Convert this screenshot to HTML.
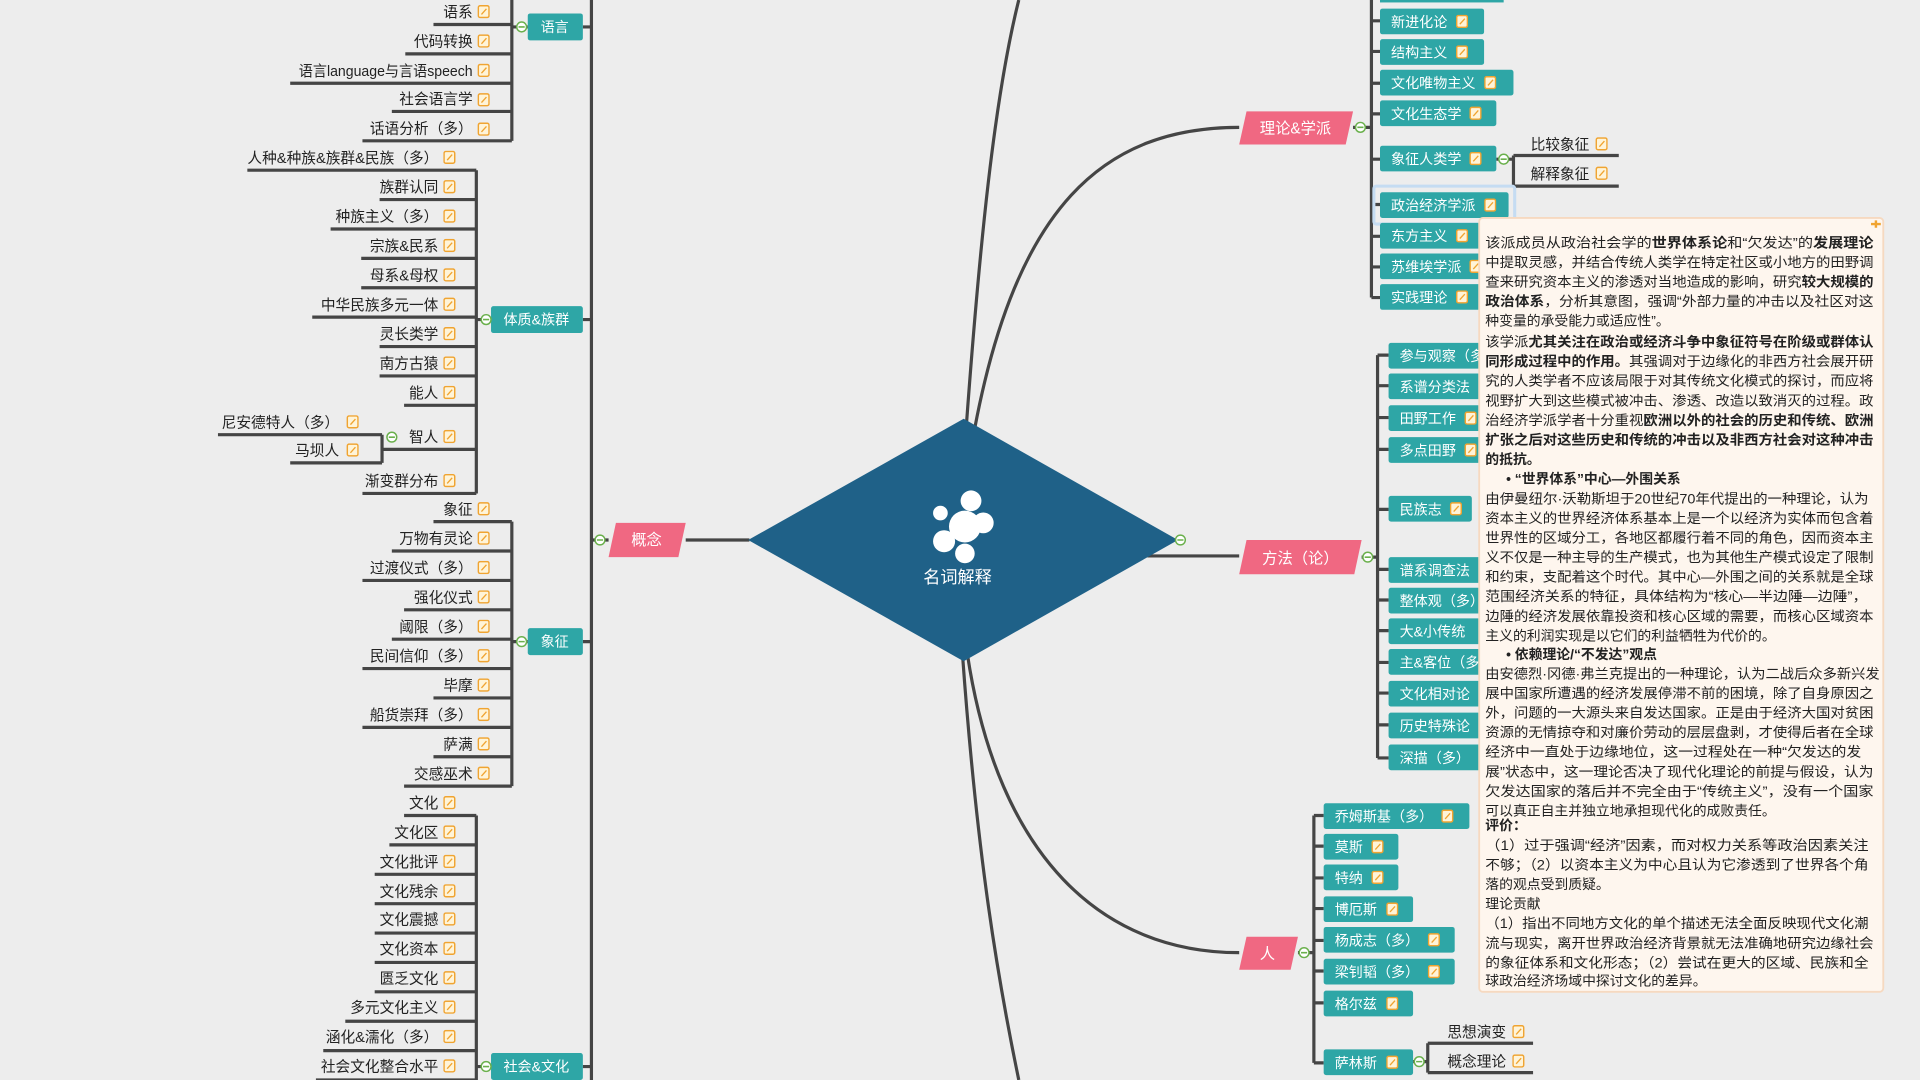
<!DOCTYPE html>
<html><head><meta charset="utf-8"><style>
html,body{margin:0;padding:0;background:#ededed;width:1920px;height:1080px;overflow:hidden}
svg{display:block}
text{font-family:"Liberation Sans","Noto Sans CJK SC",sans-serif}
.l{font-size:12px;fill:#222;text-anchor:end}
.w{font-size:11.5px;fill:#fff}
.p{font-size:11.3px;fill:#222}
.b{font-weight:bold}
</style></head><body>
<svg width="1920" height="1080" viewBox="0 0 1568 882" preserveAspectRatio="none" xmlns="http://www.w3.org/2000/svg">
<defs>
<symbol id="i" viewBox="0 0 11 12"><rect x="0.7" y="0.7" width="9.6" height="10.6" rx="1.6" fill="#fff4d8" stroke="#f0a431" stroke-width="1.3"/><path d="M3.5 8.5 L8 3.5" stroke="#f0a431" stroke-width="1.2"/></symbol>
<symbol id="c" viewBox="0 0 10 10"><circle cx="5" cy="5" r="4" fill="#fff" stroke="#6ab04c" stroke-width="1.2"/><path d="M2.5 5 H7.5" stroke="#6ab04c" stroke-width="1.3"/></symbol>
</defs>
<rect width="1568" height="882" fill="#ededed"/>
<g stroke="#454545" stroke-width="2.6" fill="none">
<!-- left trunk -->
<path d="M483 0 V882"/>
<path d="M476 22 H483 M476 261 H483 M476 524 H483 M476 871 H483"/>
<path d="M483 441 H497 M560 441 H612"/>
<!-- language -->
<path d="M418 0 V115 M418 22 H431"/>
<path d="M354 20 H418 M331 44 H418 M237 68 H418 M320 91 H418 M296 115 H418"/>
<!-- 体质 -->
<path d="M389 139 V403 M389 261 H401"/>
<path d="M202 139 H389 M310 163 H389 M270 187 H389 M295 211 H389 M295 235 H389 M255 259 H389 M310 283 H389 M310 307 H389 M330 331 H389 M312 367 H389 M296 403 H389"/>
<path d="M312 355 V378 M178 355 H312 M237 378 H312"/>
<!-- 象征 -->
<path d="M418 426 V642 M418 524 H431"/>
<path d="M354 426 H418 M320 450 H418 M296 474 H418 M330 498 H418 M320 522 H418 M296 546 H418 M354 570 H418 M296 594 H418 M354 618 H418 M330 642 H418"/>
<!-- 社会文化 -->
<path d="M389 666 V882 M389 871 H401"/>
<path d="M330 666 H389 M318 690 H389 M306 714 H389 M306 738 H389 M306 762 H389 M306 786 H389 M306 810 H389 M282 834 H389 M264 858 H389 M258 882 H389"/>
<!-- right curves -->
<path d="M789 350 C800 200 812 80 832 0"/>
<path d="M796 350 C830 170 900 104 1012 104"/>
<path d="M790 534 C815 700 900 778 1012 778"/>
<path d="M786 534 C798 700 815 800 832 882"/>
<path d="M937 454 H1012"/>
<!-- theory -->
<path d="M1105 104 H1120 M1120 0 V243"/>
<path d="M1120 17 H1127 M1120 42 H1127 M1120 68 H1127 M1120 93 H1127 M1120 130 H1127 M1120 167 H1127 M1120 193 H1127 M1120 218 H1127 M1120 243 H1127"/>
<path d="M1222 130 H1236 M1236 127 V152 M1236 127 H1322 M1236 152 H1322"/>
<!-- method -->
<path d="M1112 455 H1125 M1125 290 V619"/>
<path d="M1125 290 H1134 M1125 315 H1134 M1125 341 H1134 M1125 367 H1134 M1125 416 H1134 M1125 465 H1134 M1125 490 H1134 M1125 515 H1134 M1125 541 H1134 M1125 566 H1134 M1125 592 H1134 M1125 619 H1134"/>
<!-- person -->
<path d="M1060 778 H1073 M1073 666 V868"/>
<path d="M1073 666 H1081 M1073 691 H1081 M1073 717 H1081 M1073 742 H1081 M1073 768 H1081 M1073 793 H1081 M1073 819 H1081 M1073 868 H1081"/>
<path d="M1154 867 H1166 M1166 852 V876 M1166 852 H1252 M1166 876 H1252"/>
</g>
<!-- diamond -->
<polygon points="611,441 787,342 962,441 787,540" fill="#1f6188"/>
<g fill="#fff"><circle cx="788" cy="430" r="13"/><circle cx="793" cy="409" r="8.5"/><circle cx="803" cy="427" r="8.5"/><circle cx="768" cy="419" r="6"/><circle cx="771" cy="442" r="9"/><circle cx="788" cy="452" r="8"/></g>
<text x="782" y="476" font-size="14" fill="#fff" text-anchor="middle">名词解释</text>
<!-- pink nodes -->
<g fill="#f06882">
<polygon points="503,427 560,427 554,455 497,455"/>
<polygon points="1018,91 1105,91 1099,118 1012,118"/>
<polygon points="1018,441 1112,441 1106,469 1012,469"/>
<polygon points="1018,765 1060,765 1054,792 1012,792"/>
</g>
<g font-size="12.5" fill="#fff" text-anchor="middle">
<text x="528" y="445">概念</text><text x="1058" y="109">理论&amp;学派</text><text x="1062" y="460">方法（论）</text><text x="1035" y="783">人</text>
</g>
<!-- left teal nodes -->
<g fill="#2ea6a6"><rect x="431" y="11" width="45" height="22" rx="2"/><rect x="401" y="250" width="75" height="22" rx="2"/><rect x="431" y="513" width="45" height="22" rx="2"/><rect x="401" y="860" width="75" height="22" rx="2"/></g>
<g class="w" text-anchor="middle"><text x="453" y="26">语言</text><text x="438" y="265">体质&amp;族群</text><text x="453" y="528">象征</text><text x="438" y="875">社会&amp;文化</text></g>
<!-- collapse circles -->
<use href="#c" x="421" y="17" width="10" height="10"/><use href="#c" x="392" y="256" width="10" height="10"/><use href="#c" x="421" y="519" width="10" height="10"/><use href="#c" x="392" y="866" width="10" height="10"/>
<use href="#c" x="485" y="436" width="10" height="10"/><use href="#c" x="959" y="436" width="10" height="10"/><use href="#c" x="315" y="352" width="10" height="10"/>
<use href="#c" x="1106" y="99" width="10" height="10"/><use href="#c" x="1223" y="125" width="10" height="10"/><use href="#c" x="1112" y="450" width="10" height="10"/><use href="#c" x="1060" y="773" width="10" height="10"/><use href="#c" x="1154" y="862" width="10" height="10"/>
<!-- language leaves -->
<g class="l">
<text x="386" y="14">语系</text><text x="386" y="38">代码转换</text><text x="386" y="62" textLength="142" lengthAdjust="spacingAndGlyphs">语言language与言语speech</text><text x="386" y="85">社会语言学</text><text x="386" y="109">话语分析（多）</text>
<text x="358" y="133">人种&amp;种族&amp;族群&amp;民族（多）</text><text x="358" y="157">族群认同</text><text x="358" y="181">种族主义（多）</text><text x="358" y="205">宗族&amp;民系</text><text x="358" y="229">母系&amp;母权</text><text x="358" y="253">中华民族多元一体</text><text x="358" y="277">灵长类学</text><text x="358" y="301">南方古猿</text><text x="358" y="325">能人</text><text x="358" y="361">智人</text><text x="358" y="397">渐变群分布</text>
<text x="277" y="349">尼安德特人（多）</text><text x="277" y="372">马坝人</text>
<text x="386" y="420">象征</text><text x="386" y="444">万物有灵论</text><text x="386" y="468">过渡仪式（多）</text><text x="386" y="492">强化仪式</text><text x="386" y="516">阈限（多）</text><text x="386" y="540">民间信仰（多）</text><text x="386" y="564">毕摩</text><text x="386" y="588">船货崇拜（多）</text><text x="386" y="612">萨满</text><text x="386" y="636">交感巫术</text>
<text x="358" y="660">文化</text><text x="358" y="684">文化区</text><text x="358" y="708">文化批评</text><text x="358" y="732">文化残余</text><text x="358" y="755">文化震撼</text><text x="358" y="779">文化资本</text><text x="358" y="803">匮乏文化</text><text x="358" y="827">多元文化主义</text><text x="358" y="851">涵化&amp;濡化（多）</text><text x="358" y="875">社会文化整合水平</text>
</g>
<g>
<use href="#i" x="390" y="4" width="10" height="11"/><use href="#i" x="390" y="28" width="10" height="11"/><use href="#i" x="390" y="52" width="10" height="11"/><use href="#i" x="390" y="76" width="10" height="11"/><use href="#i" x="390" y="100" width="10" height="11"/>
<use href="#i" x="362" y="123" width="10" height="11"/><use href="#i" x="362" y="147" width="10" height="11"/><use href="#i" x="362" y="171" width="10" height="11"/><use href="#i" x="362" y="195" width="10" height="11"/><use href="#i" x="362" y="219" width="10" height="11"/><use href="#i" x="362" y="243" width="10" height="11"/><use href="#i" x="362" y="267" width="10" height="11"/><use href="#i" x="362" y="291" width="10" height="11"/><use href="#i" x="362" y="315" width="10" height="11"/><use href="#i" x="362" y="351" width="10" height="11"/><use href="#i" x="362" y="387" width="10" height="11"/>
<use href="#i" x="283" y="339" width="10" height="11"/><use href="#i" x="283" y="362" width="10" height="11"/>
<use href="#i" x="390" y="410" width="10" height="11"/><use href="#i" x="390" y="434" width="10" height="11"/><use href="#i" x="390" y="458" width="10" height="11"/><use href="#i" x="390" y="482" width="10" height="11"/><use href="#i" x="390" y="506" width="10" height="11"/><use href="#i" x="390" y="530" width="10" height="11"/><use href="#i" x="390" y="554" width="10" height="11"/><use href="#i" x="390" y="578" width="10" height="11"/><use href="#i" x="390" y="602" width="10" height="11"/><use href="#i" x="390" y="626" width="10" height="11"/>
<use href="#i" x="362" y="650" width="10" height="11"/><use href="#i" x="362" y="674" width="10" height="11"/><use href="#i" x="362" y="698" width="10" height="11"/><use href="#i" x="362" y="722" width="10" height="11"/><use href="#i" x="362" y="745" width="10" height="11"/><use href="#i" x="362" y="769" width="10" height="11"/><use href="#i" x="362" y="793" width="10" height="11"/><use href="#i" x="362" y="817" width="10" height="11"/><use href="#i" x="362" y="841" width="10" height="11"/><use href="#i" x="362" y="865" width="10" height="11"/>
</g>
<!-- theory boxes -->
<rect x="1122" y="152" width="115" height="31" fill="none" stroke="#c5dcf2" stroke-width="2.5" rx="2"/>
<g fill="#2ea6a6">
<rect x="1127" y="-6" width="101" height="8"/>
<rect x="1127" y="7" width="85" height="21" rx="2"/><rect x="1127" y="32" width="85" height="21" rx="2"/><rect x="1127" y="57" width="109" height="21" rx="2"/><rect x="1127" y="82" width="95" height="21" rx="2"/><rect x="1127" y="119" width="95" height="21" rx="2"/><rect x="1127" y="157" width="105" height="21" rx="2"/><rect x="1127" y="182" width="85" height="21" rx="2"/><rect x="1127" y="207" width="95" height="21" rx="2"/><rect x="1127" y="232" width="85" height="21" rx="2"/>
<rect x="1134" y="280" width="85" height="21" rx="2"/><rect x="1134" y="305" width="80" height="21" rx="2"/><rect x="1134" y="331" width="76" height="21" rx="2"/><rect x="1134" y="357" width="76" height="21" rx="2"/><rect x="1134" y="405" width="68" height="21" rx="2"/><rect x="1134" y="455" width="80" height="21" rx="2"/><rect x="1134" y="480" width="80" height="21" rx="2"/><rect x="1134" y="505" width="80" height="21" rx="2"/><rect x="1134" y="530" width="80" height="21" rx="2"/><rect x="1134" y="556" width="80" height="21" rx="2"/><rect x="1134" y="582" width="80" height="21" rx="2"/><rect x="1134" y="608" width="80" height="21" rx="2"/>
<rect x="1081" y="656" width="119" height="21" rx="2"/><rect x="1081" y="681" width="61" height="21" rx="2"/><rect x="1081" y="706" width="61" height="21" rx="2"/><rect x="1081" y="732" width="73" height="21" rx="2"/><rect x="1081" y="757" width="107" height="21" rx="2"/><rect x="1081" y="783" width="107" height="21" rx="2"/><rect x="1081" y="809" width="73" height="21" rx="2"/><rect x="1081" y="857" width="73" height="21" rx="2"/>
</g>
<g class="w">
<text x="1136" y="22">新进化论</text><text x="1136" y="47">结构主义</text><text x="1136" y="72">文化唯物主义</text><text x="1136" y="97">文化生态学</text><text x="1136" y="134">象征人类学</text><text x="1136" y="172">政治经济学派</text><text x="1136" y="197">东方主义</text><text x="1136" y="222">苏维埃学派</text><text x="1136" y="247">实践理论</text>
<text x="1143" y="295">参与观察（多）</text><text x="1143" y="320">系谱分类法</text><text x="1143" y="346">田野工作</text><text x="1143" y="372">多点田野</text><text x="1143" y="420">民族志</text><text x="1143" y="470">谱系调查法</text><text x="1143" y="495">整体观（多）</text><text x="1143" y="520">大&amp;小传统</text><text x="1143" y="545">主&amp;客位（多）</text><text x="1143" y="571">文化相对论</text><text x="1143" y="597">历史特殊论</text><text x="1143" y="623">深描（多）</text>
<text x="1090" y="671">乔姆斯基（多）</text><text x="1090" y="696">莫斯</text><text x="1090" y="721">特纳</text><text x="1090" y="747">博厄斯</text><text x="1090" y="772">杨成志（多）</text><text x="1090" y="798">梁钊韬（多）</text><text x="1090" y="824">格尔兹</text><text x="1090" y="872">萨林斯</text>
</g>
<g>
<use href="#i" x="1189" y="12" width="10" height="11"/><use href="#i" x="1189" y="37" width="10" height="11"/><use href="#i" x="1212" y="62" width="10" height="11"/><use href="#i" x="1200" y="87" width="10" height="11"/><use href="#i" x="1200" y="124" width="10" height="11"/><use href="#i" x="1212" y="162" width="10" height="11"/><use href="#i" x="1189" y="187" width="10" height="11"/><use href="#i" x="1200" y="212" width="10" height="11"/><use href="#i" x="1189" y="237" width="10" height="11"/>
<use href="#i" x="1196" y="336" width="10" height="11"/><use href="#i" x="1196" y="362" width="10" height="11"/><use href="#i" x="1184" y="410" width="10" height="11"/>
<use href="#i" x="1177" y="661" width="10" height="11"/><use href="#i" x="1120" y="686" width="10" height="11"/><use href="#i" x="1120" y="711" width="10" height="11"/><use href="#i" x="1132" y="737" width="10" height="11"/><use href="#i" x="1166" y="762" width="10" height="11"/><use href="#i" x="1166" y="788" width="10" height="11"/><use href="#i" x="1132" y="814" width="10" height="11"/><use href="#i" x="1132" y="862" width="10" height="11"/>
<use href="#i" x="1303" y="112" width="10" height="11"/><use href="#i" x="1303" y="136" width="10" height="11"/><use href="#i" x="1235" y="837" width="10" height="11"/><use href="#i" x="1235" y="861" width="10" height="11"/>
</g>
<g class="l" style="text-anchor:start">
<text x="1250" y="122">比较象征</text><text x="1250" y="146">解释象征</text><text x="1182" y="847">思想演变</text><text x="1182" y="871">概念理论</text>
</g>
<!-- popup -->
<rect x="1208" y="178" width="330" height="632" rx="3" fill="#fef6ee" stroke="#f6d9c0" stroke-width="1.5"/>
<path d="M1528 183 h8 M1532 180 v6" stroke="#f0a431" stroke-width="2"/>
<g class="p">
<text x="1213" y="202" textLength="317" lengthAdjust="spacingAndGlyphs">该派成员从政治社会学的<tspan class="b">世界体系论</tspan>和“欠发达”的<tspan class="b">发展理论</tspan></text>
<text x="1213" y="218" textLength="317" lengthAdjust="spacingAndGlyphs">中提取灵感，并结合传统人类学在特定社区或小地方的田野调</text>
<text x="1213" y="234" textLength="317" lengthAdjust="spacingAndGlyphs">查来研究资本主义的渗透对当地造成的影响，研究<tspan class="b">较大规模的</tspan></text>
<text x="1213" y="250" textLength="317" lengthAdjust="spacingAndGlyphs"><tspan class="b">政治体系</tspan>，分析其意图，强调“外部力量的冲击以及社区对这</text>
<text x="1213" y="266">种变量的承受能力或适应性”。</text>
<text x="1213" y="283" textLength="317" lengthAdjust="spacingAndGlyphs">该学派<tspan class="b">尤其关注在政治或经济斗争中象征符号在阶级或群体认</tspan></text>
<text x="1213" y="299" textLength="317" lengthAdjust="spacingAndGlyphs"><tspan class="b">同形成过程中的作用。</tspan>其强调对于边缘化的非西方社会展开研</text>
<text x="1213" y="315" textLength="317" lengthAdjust="spacingAndGlyphs">究的人类学者不应该局限于对其传统文化模式的探讨，而应将</text>
<text x="1213" y="331" textLength="317" lengthAdjust="spacingAndGlyphs">视野扩大到这些模式被冲击、渗透、改造以致消灭的过程。政</text>
<text x="1213" y="347" textLength="317" lengthAdjust="spacingAndGlyphs">治经济学派学者十分重视<tspan class="b">欧洲以外的社会的历史和传统、欧洲</tspan></text>
<text x="1213" y="363" textLength="317" lengthAdjust="spacingAndGlyphs" class="b">扩张之后对这些历史和传统的冲击以及非西方社会对这种冲击</text>
<text x="1213" y="379" class="b">的抵抗。</text>
<text x="1230" y="395" class="b">•  “世界体系”中心—外围关系</text>
<text x="1213" y="411" textLength="313" lengthAdjust="spacingAndGlyphs">由伊曼纽尔·沃勒斯坦于20世纪70年代提出的一种理论，认为</text>
<text x="1213" y="427" textLength="317" lengthAdjust="spacingAndGlyphs">资本主义的世界经济体系基本上是一个以经济为实体而包含着</text>
<text x="1213" y="443" textLength="317" lengthAdjust="spacingAndGlyphs">世界性的区域分工，各地区都履行着不同的角色，因而资本主</text>
<text x="1213" y="459" textLength="317" lengthAdjust="spacingAndGlyphs">义不仅是一种主导的生产模式，也为其他生产模式设定了限制</text>
<text x="1213" y="475" textLength="317" lengthAdjust="spacingAndGlyphs">和约束，支配着这个时代。其中心—外围之间的关系就是全球</text>
<text x="1213" y="491" textLength="312" lengthAdjust="spacingAndGlyphs">范围经济关系的特征，具体结构为“核心—半边陲—边陲”，</text>
<text x="1213" y="507" textLength="317" lengthAdjust="spacingAndGlyphs">边陲的经济发展依靠投资和核心区域的需要，而核心区域资本</text>
<text x="1213" y="523">主义的利润实现是以它们的利益牺牲为代价的。</text>
<text x="1230" y="538" class="b">•  依赖理论/“不发达”观点</text>
<text x="1213" y="554" textLength="322" lengthAdjust="spacingAndGlyphs">由安德烈·冈德·弗兰克提出的一种理论，认为二战后众多新兴发</text>
<text x="1213" y="570" textLength="317" lengthAdjust="spacingAndGlyphs">展中国家所遭遇的经济发展停滞不前的困境，除了自身原因之</text>
<text x="1213" y="586" textLength="317" lengthAdjust="spacingAndGlyphs">外，问题的一大源头来自发达国家。正是由于经济大国对贫困</text>
<text x="1213" y="602" textLength="317" lengthAdjust="spacingAndGlyphs">资源的无情掠夺和对廉价劳动的层层盘剥，才使得后者在全球</text>
<text x="1213" y="618" textLength="307" lengthAdjust="spacingAndGlyphs">经济中一直处于边缘地位，这一过程处在一种“欠发达的发</text>
<text x="1213" y="634" textLength="317" lengthAdjust="spacingAndGlyphs">展”状态中，这一理论否决了现代化理论的前提与假设，认为</text>
<text x="1213" y="650" textLength="317" lengthAdjust="spacingAndGlyphs">欠发达国家的落后并不完全由于“传统主义”，没有一个国家</text>
<text x="1213" y="666">可以真正自主并独立地承担现代化的成败责任。</text>
<text x="1213" y="678" class="b">评价：</text>
<text x="1213" y="694" textLength="313" lengthAdjust="spacingAndGlyphs">（1）过于强调“经济”因素，而对权力关系等政治因素关注</text>
<text x="1213" y="710" textLength="313" lengthAdjust="spacingAndGlyphs">不够；（2）以资本主义为中心且认为它渗透到了世界各个角</text>
<text x="1213" y="726">落的观点受到质疑。</text>
<text x="1213" y="742">理论贡献</text>
<text x="1213" y="758" textLength="313" lengthAdjust="spacingAndGlyphs">（1）指出不同地方文化的单个描述无法全面反映现代文化潮</text>
<text x="1213" y="774" textLength="317" lengthAdjust="spacingAndGlyphs">流与现实，离开世界政治经济背景就无法准确地研究边缘社会</text>
<text x="1213" y="790" textLength="313" lengthAdjust="spacingAndGlyphs">的象征体系和文化形态；（2）尝试在更大的区域、民族和全</text>
<text x="1213" y="805">球政治经济场域中探讨文化的差异。</text>
</g>
</svg>
</body></html>
